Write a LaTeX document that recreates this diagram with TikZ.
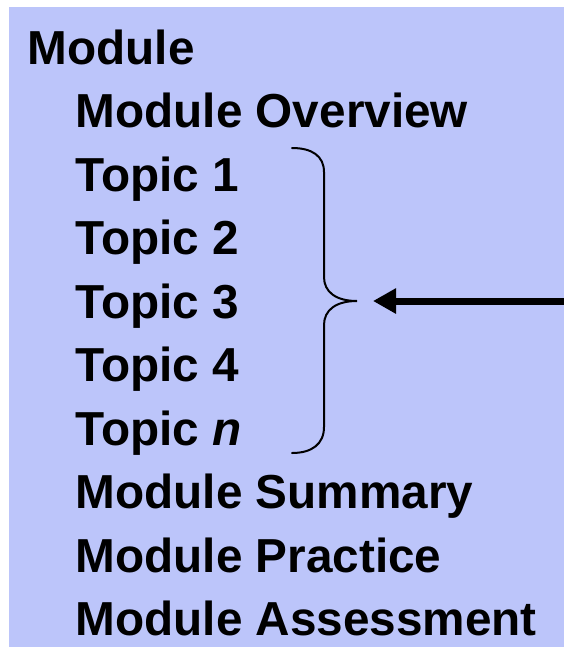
\documentclass[tikz,border=0pt]{standalone}
\usepackage{fontspec}
\setmainfont{Liberation Sans}
\usetikzlibrary{arrows.meta}
\definecolor{bgblue}{RGB}{188,197,250}
\begin{document}
\begin{tikzpicture}[x=1pt,y=-1pt,
  item/.style={anchor=base west,inner sep=0pt,font=\fontsize{47.7}{50}\selectfont\bfseries},
  bracepath/.style={line width=2pt,line cap=round},
  arrowline/.style={line width=7pt,-{Triangle[length=23pt,width=24pt]}}]
\useasboundingbox (0,0) rectangle (564,649);
\fill[bgblue] (9,7) rectangle (564,647);
\node[item] (m)   at (27.5,64)  {Module};
\node[item] (ov)  at (75.5,127.5) {Module Overview};
\node[item] (t1)  at (75.5,191)  {Topic 1};
\node[item] (t2)  at (75.5,254.5) {Topic 2};
\node[item] (t3)  at (75.5,318)  {Topic 3};
\node[item] (t4)  at (75.5,381.5) {Topic 4};
\node[item] (tn)  at (75.5,445)  {Topic \textit{n}};
\node[item] (ms)  at (75.5,508.5) {Module Summary};
\node[item] (mp)  at (75.5,572)  {Module Practice};
\node[item] (ma)  at (75.5,635.5) {Module Assessment};
\coordinate (tip) at (357,301);
\draw[bracepath] (292,148) .. controls (312,148) and (324,156) .. (324,172)
  -- (324,277) .. controls (324,292) and (336,301) .. (tip)
  .. controls (336,301) and (324,310) .. (324,325)
  -- (324,427) .. controls (324,444) and (312,453) .. (292,453);
\coordinate (src) at (564,301);
\coordinate (head) at (373,301);
\draw[arrowline] (src) -- (head);
\end{tikzpicture}
\end{document}
